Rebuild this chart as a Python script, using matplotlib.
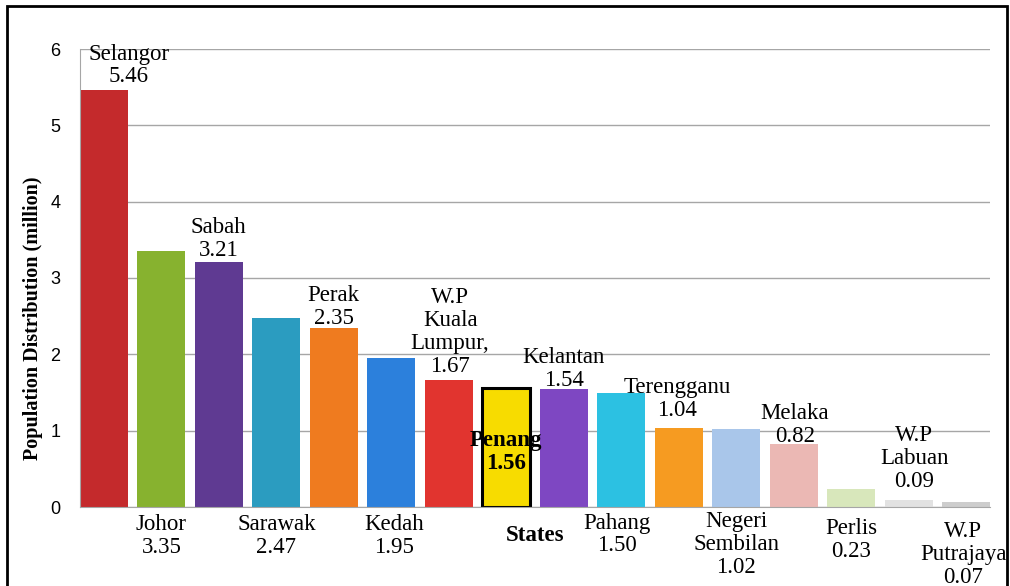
import matplotlib.pyplot as plt
from matplotlib.patches import Rectangle

# Data (million people per state)
states = ["Selangor", "Johor", "Sabah", "Sarawak", "Perak", "Kedah",
          "W.P\nKuala\nLumpur,", "Penang", "Kelantan", "Pahang", "Terengganu",
          "Negeri\nSembilan", "Melaka", "Perlis", "W.P\nLabuan", "W.P\nPutrajaya"]
population = [5.46, 3.35, 3.21, 2.47, 2.35, 1.95, 1.67, 1.56, 1.54, 1.50,
              1.04, 1.02, 0.82, 0.23, 0.09, 0.07]
bar_colors = ["#c42a2c", "#87b22f", "#5f3a92", "#2b9cc0", "#ef7b1f", "#2c80dc",
              "#e1342f", "#f7dc00", "#7e47c2", "#2cc1e2", "#f69b21", "#a9c6ea",
              "#ebb8b4", "#d8e7bb", "#e2e2e2", "#cdcdcd"]

# where each label goes: above the bar, below the axis or inside the bar
placement = ["above", "below", "above", "below", "above", "below", "above", "inside",
             "above", "below", "above", "below", "above", "below", "above", "below"]
# small nudges (points) to follow the original layout
dx = [18, 0, 0, 0, 0, 2, 1, 0, 0, -3, -1, 0, 1, 0, 4, -2]
dy = [2, -5, 1, -5, -1, -5, 2, -3, -1, -4, 5, -3, -2, -8, 6, -10]

FS = 16.5
LS = 1.12

plt.rcParams['font.family'] = ['Liberation Serif', 'DejaVu Serif']

fig = plt.figure(figsize=(10.1, 5.86), dpi=100)
ax = fig.add_axes([80 / 1010, 1 - 507 / 586, 910 / 1010, 458 / 586])

width = 0.83
x = list(range(len(states)))
bars = ax.bar(x, population, width=width, color=bar_colors, zorder=2)
bars[states.index("Penang")].set_edgecolor("black")
bars[states.index("Penang")].set_linewidth(2.2)

ax.set_xlim(-width / 2, len(states) - 1 + width / 2)
ax.set_ylim(0, 6)
ax.set_yticks(range(0, 7))
ax.set_xticks([])
for lbl in ax.get_yticklabels():
    lbl.set_fontfamily('Liberation Sans')
ax.tick_params(axis='y', length=0, pad=14, labelsize=13)
ax.grid(axis='y', color='#a6a6a6', linewidth=1, zorder=0)

for s in ["top", "right"]:
    ax.spines[s].set_visible(False)
ax.spines["left"].set_color('#a6a6a6')
ax.spines["bottom"].set_color('#a6a6a6')

ax.set_ylabel("Population Distribution (million)", fontsize=14.5,
              fontweight='bold')
ax.yaxis.set_label_coords(-0.041, 0.413)

for i, (name, val) in enumerate(zip(states, population)):
    txt = f"{name}\n{val:.2f}"
    if placement[i] == "above":
        ax.annotate(txt, xy=(i, val), xytext=(dx[i], dy[i]),
                    textcoords='offset points', ha='center', va='bottom',
                    fontsize=FS, linespacing=LS, zorder=3)
    elif placement[i] == "below":
        ax.annotate(txt, xy=(i, 0), xytext=(dx[i], dy[i]),
                    textcoords='offset points', ha='center', va='top',
                    fontsize=FS, linespacing=LS, annotation_clip=False)
    else:
        ax.annotate(txt, xy=(i, val / 2), xytext=(dx[i], dy[i]),
                    textcoords='offset points', ha='center', va='center',
                    fontsize=FS, linespacing=LS, fontweight='bold', zorder=3)

ax.annotate("States", xy=(states.index("Penang") + 0.5, 0), xytext=(0, -13),
            textcoords='offset points', ha='center', va='top',
            fontsize=FS, fontweight='bold', annotation_clip=False)

# outer frame around the whole chart
fig.patches.append(Rectangle((7 / 1010, -0.05), 1000 / 1010, 1 - 6 / 586 + 0.05,
                             transform=fig.transFigure, fill=False,
                             edgecolor='black', linewidth=2))

fig.savefig("out.png", dpi=100)
